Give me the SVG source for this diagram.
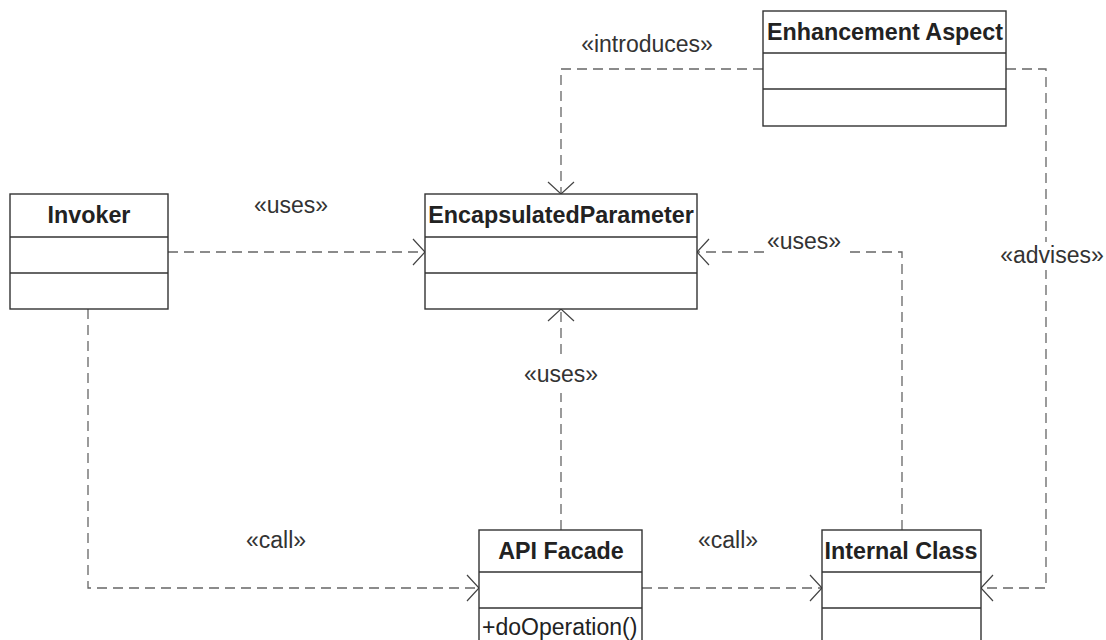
<svg xmlns="http://www.w3.org/2000/svg" width="1106" height="640" viewBox="0 0 1106 640">
<style>
.box{fill:#fff;stroke:#333;stroke-width:1.4}
.div{stroke:#333;stroke-width:1.4}
.title{font-family:"Liberation Sans",Arial,sans-serif;font-weight:bold;font-size:23.3px;fill:#222;text-anchor:middle}
.op{font-family:"Liberation Sans",Arial,sans-serif;font-size:23px;fill:#222}
.lbl{font-family:"Liberation Sans",Arial,sans-serif;font-size:23px;fill:#333;text-anchor:middle}
.dep{fill:none;stroke:#666;stroke-width:1.3;stroke-dasharray:10,6}
.bg{fill:#fff}
</style>
<defs>
<marker id="open" viewBox="0 0 14 28" refX="13" refY="14" markerWidth="14" markerHeight="28" markerUnits="userSpaceOnUse" orient="auto">
<path d="M1,1 L13,14 L1,27" fill="none" stroke="#444" stroke-width="1.2" stroke-dasharray="none"/>
</marker>
</defs>
<g id="connectors">
<path class="dep" d="M763,69 H561 V194" marker-end="url(#open)"/>
<path class="dep" d="M168,252 H425" marker-end="url(#open)"/>
<path class="dep" d="M902,530 V252 H697" marker-end="url(#open)"/>
<path class="dep" d="M1006,69 H1046 V588 H981" marker-end="url(#open)"/>
<path class="dep" d="M561,530 V309" marker-end="url(#open)"/>
<path class="dep" d="M88,309 V588 H479" marker-end="url(#open)"/>
<path class="dep" d="M642,588 H822" marker-end="url(#open)"/>
<rect class="bg" x="764" y="236" width="80" height="18"/>
<rect class="bg" x="998" y="242" width="108" height="28"/>
<rect class="bg" x="520" y="357" width="82" height="36"/>
<text class="lbl" x="647" y="52">«introduces»</text>
<text class="lbl" x="291" y="213">«uses»</text>
<text class="lbl" x="804" y="249">«uses»</text>
<text class="lbl" x="1052" y="263">«advises»</text>
<text class="lbl" x="561" y="382">«uses»</text>
<text class="lbl" x="276" y="548">«call»</text>
<text class="lbl" x="728" y="548">«call»</text>
</g>
<g id="invoker">
<rect class="box" x="10" y="194" width="158" height="115"/>
<line class="div" x1="10" y1="237" x2="168" y2="237"/>
<line class="div" x1="10" y1="273" x2="168" y2="273"/>
<text class="title" x="89" y="223">Invoker</text>
</g>
<g id="encapsulatedParameter">
<rect class="box" x="425" y="194" width="272" height="115"/>
<line class="div" x1="425" y1="237" x2="697" y2="237"/>
<line class="div" x1="425" y1="273" x2="697" y2="273"/>
<text class="title" x="561" y="223">EncapsulatedParameter</text>
</g>
<g id="enhancementAspect">
<rect class="box" x="763" y="11" width="243" height="115"/>
<line class="div" x1="763" y1="53" x2="1006" y2="53"/>
<line class="div" x1="763" y1="89" x2="1006" y2="89"/>
<text class="title" x="885" y="40">Enhancement Aspect</text>
</g>
<g id="apiFacade">
<rect class="box" x="479" y="530" width="163" height="130"/>
<line class="div" x1="479" y1="572" x2="642" y2="572"/>
<line class="div" x1="479" y1="608" x2="642" y2="608"/>
<text class="title" x="561" y="559">API Facade</text>
<text class="op" x="482" y="635">+doOperation()</text>
</g>
<g id="internalClass">
<rect class="box" x="822" y="530" width="159" height="130"/>
<line class="div" x1="822" y1="572" x2="981" y2="572"/>
<line class="div" x1="822" y1="608" x2="981" y2="608"/>
<text class="title" x="901" y="559">Internal Class</text>
</g>
</svg>
